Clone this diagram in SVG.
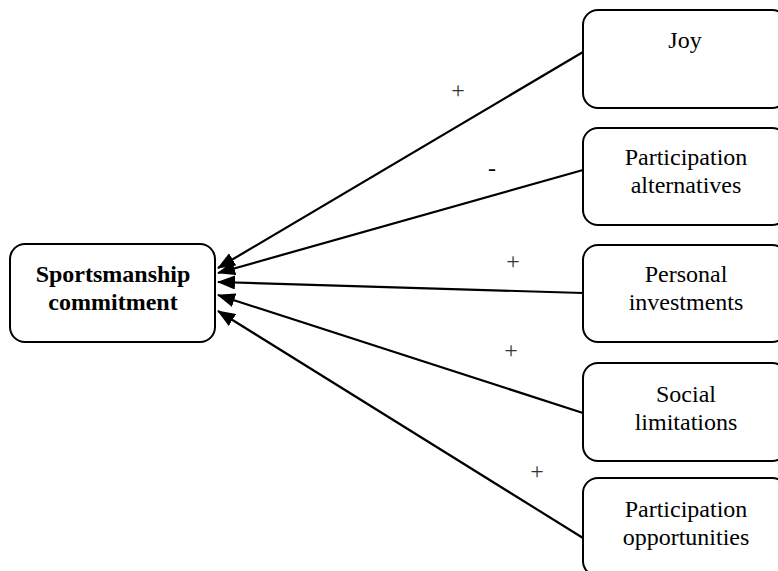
<svg xmlns="http://www.w3.org/2000/svg" width="778" height="571" viewBox="0 0 778 571">
<defs>
<style>
.box{fill:#fff;stroke:#000;stroke-width:2}
.edge{stroke:#000;stroke-width:2.2;fill:none;marker-end:url(#ah)}
</style>
<marker id="ah" viewBox="0 0 18 14" markerWidth="18" markerHeight="14" markerUnits="userSpaceOnUse" refX="17" refY="7" orient="auto">
<path d="M0,0 L18,7 L0,14 Z" fill="#000"/>
</marker>
</defs>
<rect width="778" height="571" fill="#fff"/>
<g id="connectors">
<line class="edge" x1="583" y1="52" x2="218" y2="268"/>
<line class="edge" x1="583" y1="170" x2="218" y2="273"/>
<line class="edge" x1="583" y1="293" x2="218" y2="282"/>
<line class="edge" x1="583" y1="413" x2="218" y2="295"/>
<line class="edge" x1="583" y1="538" x2="218" y2="311"/>
<g font-family="Liberation Serif, Times New Roman, serif" font-size="24" fill="#333" text-anchor="middle">
<text x="458" y="98">+</text>
<text x="492" y="176" fill="#000">-</text>
<text x="513" y="269">+</text>
<text x="511" y="358">+</text>
<text x="537" y="479">+</text>
</g>
</g>
<g font-family="Liberation Serif, Times New Roman, serif" font-size="24" fill="#000" text-anchor="middle">
<g id="sportsmanship">
<rect class="box" x="10" y="244" width="205" height="98" rx="15"/>
<text x="113" y="282" font-weight="bold">Sportsmanship</text>
<text x="113" y="310" font-weight="bold">commitment</text>
</g>
<g id="joy">
<rect class="box" x="583" y="10" width="204" height="98" rx="15"/>
<text x="685" y="48">Joy</text>
</g>
<g id="alternatives">
<rect class="box" x="583" y="128" width="204" height="97" rx="15"/>
<text x="686" y="165">Participation</text>
<text x="686" y="193">alternatives</text>
</g>
<g id="investments">
<rect class="box" x="583" y="245" width="204" height="97" rx="15"/>
<text x="686" y="282">Personal</text>
<text x="686" y="310">investments</text>
</g>
<g id="limitations">
<rect class="box" x="583" y="363" width="204" height="98" rx="15"/>
<text x="686" y="402">Social</text>
<text x="686" y="430">limitations</text>
</g>
<g id="opportunities">
<rect class="box" x="583" y="478" width="204" height="98" rx="15"/>
<text x="686" y="517">Participation</text>
<text x="686" y="545">opportunities</text>
</g>
</g>
</svg>
